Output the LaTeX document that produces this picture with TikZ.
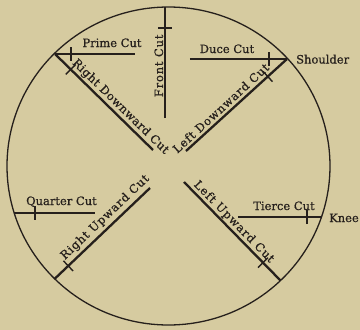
\documentclass[tikz,border=0pt]{standalone}
\usepackage{fontspec}
\setmainfont{DejaVu Serif}[FakeBold=0.6]
\usetikzlibrary{calc}
\definecolor{paper}{RGB}{214,203,160}
\definecolor{ink}{RGB}{38,32,28}
\begin{document}
\begin{tikzpicture}[x=1pt,y=-1pt,
  rim/.style={draw=ink, line width=1.3pt},
  cutline/.style={draw=ink, line width=2.3pt},
  flatcut/.style={draw=ink, line width=1.6pt},
  tickmark/.style={draw=ink, line width=1.4pt},
  lbl/.style={text=ink, inner sep=0pt, font=\fontsize{11.5}{13}\selectfont},
]
\fill[paper] (0,0) rectangle (360,330);
\useasboundingbox (0,0) rectangle (360,330);
\coordinate (O) at (168.5,166);
\draw[rim] (O) ellipse [x radius=161.5pt, y radius=159pt];

% Front cut
\coordinate (T) at (165,7);
\coordinate (Fe) at (165,118);
\draw[cutline, line width=2pt] (Fe) -- (T);
\coordinate (tF) at ($(T)!21pt!(Fe)$);
\draw[tickmark] ($(tF)!7pt!90:(T)$) -- ($(tF)!7pt!-90:(T)$);
\node[lbl, rotate=90, anchor=base] (front) at ($(Fe)!0.47!(T)!2pt!90:(T)$) {\addfontfeature{LetterSpace=7}Front Cut};

% Prime cut and right downward cut
\coordinate (P) at (55,54);
\coordinate (Pe) at (135,54);
\draw[flatcut] (P) -- (Pe);
\coordinate (tP) at ($(P)!16pt!(Pe)$);
\draw[tickmark] ($(tP)!7pt!90:(Pe)$) -- ($(tP)!7pt!-90:(Pe)$);
\node[lbl, anchor=base] (prime) at (112,47) {Prime Cut};
\coordinate (RDe) at (153,150);
\draw[cutline] (P) -- (RDe);
\coordinate (tRD) at ($(P)!22pt!(RDe)$);
\draw[tickmark] ($(tRD)!7pt!90:(RDe)$) -- ($(tRD)!7pt!-90:(RDe)$);
\node[lbl, rotate=-44.4, anchor=base] (rd) at ($(P)!0.61!(RDe)!5pt!90:(RDe)$) {\addfontfeature{LetterSpace=4}Right Downward Cut};

% Duce cut and left downward cut
\coordinate (S) at (287,59);
\coordinate (De) at (190,59);
\draw[flatcut] (De) -- (S);
\coordinate (tD) at ($(S)!18pt!(De)$);
\draw[tickmark] ($(tD)!7pt!90:(De)$) -- ($(tD)!7pt!-90:(De)$);
\node[lbl, anchor=base] (duce) at (227,53) {Duce Cut};
\node[lbl, anchor=base west] (shoulder) at (296,63.5) {Shoulder};
\coordinate (LDe) at (186,151);
\draw[cutline] (LDe) -- (S);
\coordinate (tLD) at ($(S)!26pt!(LDe)$);
\draw[tickmark] ($(tLD)!7pt!90:(LDe)$) -- ($(tLD)!7pt!-90:(LDe)$);
\node[lbl, rotate=42.6, anchor=base] (ld) at ($(LDe)!0.4!(S)!4pt!90:(S)$) {\addfontfeature{LetterSpace=7}Left Downward Cut};

% Quarter cut and right upward cut
\coordinate (Q) at (14,213);
\coordinate (Qe) at (95,213);
\draw[flatcut] (Q) -- (Qe);
\coordinate (tQ) at ($(Q)!21pt!(Qe)$);
\draw[tickmark] ($(tQ)!7pt!90:(Qe)$) -- ($(tQ)!7pt!-90:(Qe)$);
\node[lbl, anchor=base] (quarter) at (61.5,205) {Quarter Cut};
\coordinate (RUa) at (54.5,279);
\coordinate (RUb) at (150,188);
\draw[cutline] (RUa) -- (RUb);
\coordinate (tRU) at ($(RUa)!19pt!(RUb)$);
\draw[tickmark] ($(tRU)!7pt!90:(RUb)$) -- ($(tRU)!7pt!-90:(RUb)$);
\node[lbl, rotate=43.6, anchor=base] (ru) at ($(RUa)!0.6!(RUb)!6.5pt!90:(RUb)$) {\addfontfeature{LetterSpace=7}Right Upward Cut};

% Tierce cut and left upward cut
\coordinate (K) at (321.5,217);
\coordinate (Te) at (238,217);
\draw[flatcut] (Te) -- (K);
\coordinate (tT) at ($(K)!14.5pt!(Te)$);
\draw[tickmark] ($(tT)!7pt!90:(Te)$) -- ($(tT)!7pt!-90:(Te)$);
\node[lbl, anchor=base] (tierce) at (284,210) {Tierce Cut};
\node[lbl, anchor=base west] (knee) at (329,222) {Knee};
\coordinate (LUa) at (184,182);
\coordinate (LUb) at (280.5,280.5);
\draw[cutline] (LUa) -- (LUb);
\coordinate (tLU) at ($(LUb)!25pt!(LUa)$);
\draw[tickmark] ($(tLU)!7pt!90:(LUa)$) -- ($(tLU)!7pt!-90:(LUa)$);
\node[lbl, rotate=-45.6, anchor=base] (lu) at ($(LUa)!0.46!(LUb)!4.5pt!90:(LUb)$) {\addfontfeature{LetterSpace=8}Left Upward Cut};
\end{tikzpicture}
\end{document}
